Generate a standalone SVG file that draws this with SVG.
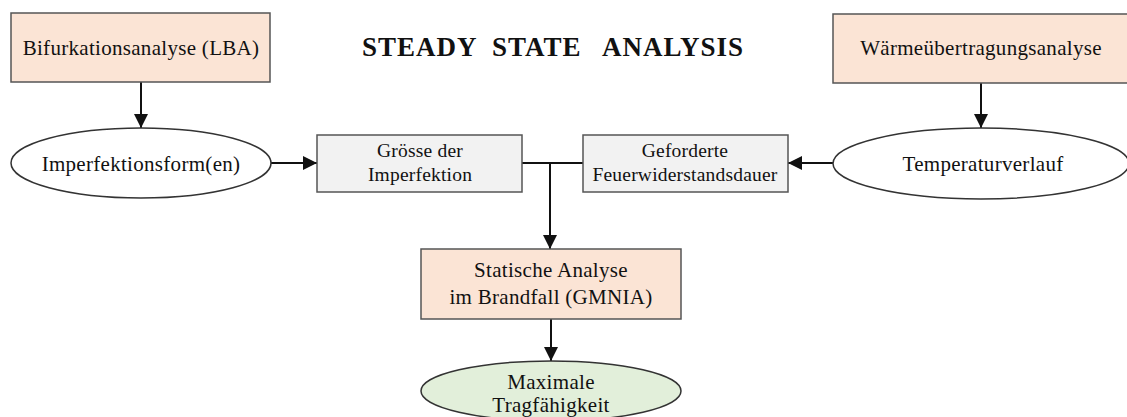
<svg xmlns="http://www.w3.org/2000/svg" width="1127" height="417" viewBox="0 0 1127 417">
<style>
.box{stroke:#555;stroke-width:1.5}
.peach{fill:#fbe4d5}
.gray{fill:#f2f2f2}
.ell{fill:#fff;stroke:#333;stroke-width:1.5}
.green{fill:#e2efda}
.t{font-family:"Liberation Serif","Times New Roman",serif;font-size:21px;fill:#111;text-anchor:middle;letter-spacing:0.3px}
.s{font-size:19.5px;letter-spacing:0.2px}
.title{font-family:"Liberation Serif","Times New Roman",serif;font-size:27px;font-weight:bold;fill:#111;letter-spacing:1px}
.c{stroke:#111;stroke-width:2;fill:none}
</style>
<defs>
<marker id="ah" markerWidth="14" markerHeight="14" refX="14" refY="7" orient="auto" markerUnits="userSpaceOnUse">
<path d="M0,0 L14,7 L0,14 Z" fill="#111"/>
</marker>
</defs>
<g id="title">
<text class="title" y="56"><tspan x="362">STEADY</tspan><tspan x="492">STATE</tspan><tspan x="602">ANALYSIS</tspan></text>
</g>
<g id="connectors">
<line class="c" x1="141" y1="82" x2="141" y2="128" marker-end="url(#ah)"/>
<line class="c" x1="981" y1="83" x2="981" y2="128" marker-end="url(#ah)"/>
<line class="c" x1="271" y1="163" x2="317" y2="163" marker-end="url(#ah)"/>
<line class="c" x1="833" y1="163" x2="788" y2="163" marker-end="url(#ah)"/>
<polyline class="c" points="522,163 583,163"/>
<line class="c" x1="550" y1="163" x2="550" y2="249" marker-end="url(#ah)"/>
<line class="c" x1="551" y1="319" x2="551" y2="361" marker-end="url(#ah)"/>
</g>
<g id="lba">
<rect class="box peach" x="11" y="13" width="259" height="69"/>
<text class="t" x="141" y="55">Bifurkationsanalyse (LBA)</text>
</g>
<g id="waerme">
<rect class="box peach" x="833" y="14" width="300" height="69"/>
<text class="t" x="981" y="55">Wärmeübertragungsanalyse</text>
</g>
<g id="imperfektionsform">
<ellipse class="ell" cx="141" cy="163" rx="130" ry="35"/>
<text class="t" x="141" y="171">Imperfektionsform(en)</text>
</g>
<g id="temperatur">
<ellipse class="ell" cx="981" cy="163.5" rx="148" ry="35.5"/>
<text class="t" x="983" y="171">Temperaturverlauf</text>
</g>
<g id="groesse">
<rect class="box gray" x="317" y="135" width="205" height="57"/>
<text class="t s" x="420" y="157">Grösse der</text>
<text class="t s" x="420" y="181">Imperfektion</text>
</g>
<g id="feuer">
<rect class="box gray" x="583" y="135" width="205" height="57"/>
<text class="t s" x="685" y="157">Geforderte</text>
<text class="t s" x="685" y="181">Feuerwiderstandsdauer</text>
</g>
<g id="statisch">
<rect class="box peach" x="421" y="249" width="260" height="70"/>
<text class="t" x="551" y="277">Statische Analyse</text>
<text class="t" x="551" y="304">im Brandfall (GMNIA)</text>
</g>
<g id="tragfaehigkeit">
<ellipse class="ell green" cx="551" cy="391" rx="130" ry="30"/>
<text class="t" x="551" y="389">Maximale</text>
<text class="t" x="551" y="412">Tragfähigkeit</text>
</g>
</svg>
